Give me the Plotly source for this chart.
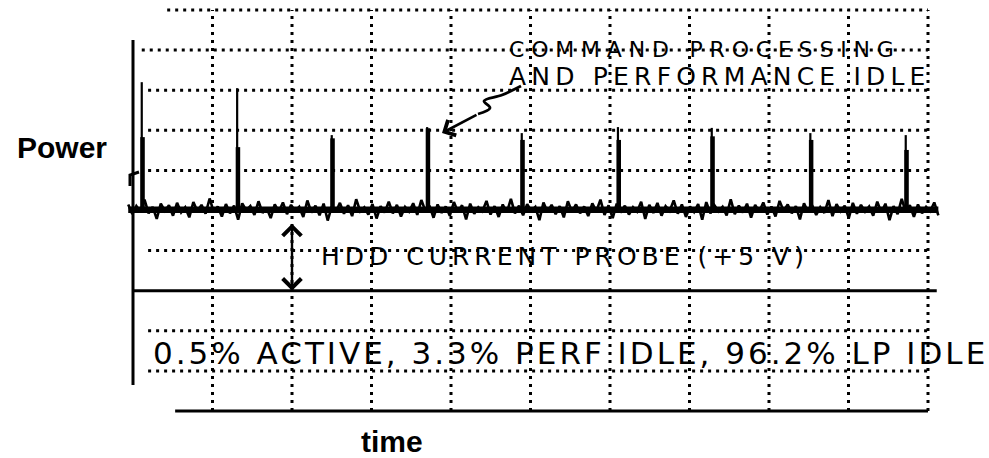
import numpy as np
import plotly.graph_objects as go

# ---------------- data (units = scope grid divisions) ----------------
SPIKE_TIME = [0.11, 1.31, 2.50, 3.70, 4.89, 6.10, 7.28, 8.52, 9.72]
SPIKE_PEAK = [8.20, 8.05, 6.88, 7.08, 6.93, 7.08, 7.06, 6.93, 6.88]
SPIKE_BODY = [6.83, 6.58, 6.80, 7.05, 6.76, 6.76, 6.85, 6.76, 6.51]
IDLE_LEVEL = 5.05
NOISE_START = -0.06
NOISE_END = 10.13
NOISE = [
    0.10, -0.14, 0.06, -0.08, 0.22, -0.12, 0.04, -0.26, 0.12, -0.06,
    0.08, -0.18, 0.14, -0.10, 0.03, -0.22, 0.16, -0.07, 0.09, -0.13,
    0.25, -0.09, 0.05, -0.20, 0.11, -0.12, 0.07, -0.28, 0.13, -0.05,
    0.06, -0.16, 0.18, -0.11, 0.02, -0.24, 0.10, -0.08, 0.15, -0.14,
    0.09, -0.06, 0.04, -0.21, 0.20, -0.10, 0.07, -0.17, 0.12, -0.30,
    0.05, -0.09, 0.14, -0.13, 0.08, -0.19, 0.23, -0.07, 0.03, -0.15,
    0.11, -0.25, 0.06, -0.10, 0.17, -0.12, 0.09, -0.20, 0.04, -0.08,
    0.13, -0.16, 0.21, -0.06, 0.07, -0.23, 0.10, -0.11, 0.05, -0.18,
    0.16, -0.09, 0.08, -0.27, 0.12, -0.13, 0.03, -0.07, 0.19, -0.15,
    0.06, -0.21, 0.10, -0.10, 0.24, -0.12, 0.07, -0.17, 0.11, -0.06,
    0.04, -0.29, 0.15, -0.09, 0.09, -0.14, 0.06, -0.22, 0.18, -0.08,
    0.10, -0.12, 0.05, -0.19, 0.13, -0.07, 0.22, -0.16, 0.08, -0.24,
    0.12, -0.10, 0.07, -0.15, 0.03, -0.08, 0.17, -0.26, 0.09, -0.11,
    0.14, -0.18, 0.06, -0.06, 0.20, -0.13, 0.10, -0.21, 0.05, -0.09,
    0.11, -0.28, 0.16, -0.12, 0.08, -0.07, 0.04, -0.17, 0.23, -0.14,
    0.07, -0.10, 0.12, -0.23, 0.09, -0.08, 0.15, -0.15, 0.05, -0.20,
    0.19, -0.06, 0.10, -0.12, 0.06, -0.27, 0.13, -0.09, 0.08, -0.16,
    0.03, -0.11, 0.21, -0.19, 0.11, -0.07, 0.07, -0.24, 0.14, -0.13,
    0.09, -0.08, 0.05, -0.18, 0.17, -0.10, 0.12, -0.29, 0.06, -0.14,
    0.24, -0.09, 0.08, -0.21, 0.10, -0.12, 0.04, -0.07, 0.15, -0.17,
]
ZERO_LEVEL = 3.0          # HDD current probe zero reference
PROBE_ARROW_X = 2.0
PROBE_ARROW_TOP = 4.71

# grid: (level, start, end)
H_DOTTED = [(10, 0.43, 10), (9, 0.11, 10), (8, 0.19, 10), (7, 0.19, 10), (6, 0.19, 10),
            (5, 0.19, 10), (4, 0.19, 10), (2, 0.19, 10), (1, 0.19, 10)]
H_SOLID = [(3, 0.0, 10.11), (0, 0.53, 10.0)]
V_DOTTED = [1, 2, 3, 4, 5, 6, 7, 8, 9, 10]
AXIS_SPAN = (0.65, 9.25)

LABEL_Y = "Power"
LABEL_X = "time"
NOTE_CMD_1 = "COMMAND PROCESSING"
NOTE_CMD_2 = "AND PERFORMANCE IDLE"
NOTE_PROBE = "HDD CURRENT PROBE (+5 V)"
NOTE_SHARE = "0.5% ACTIVE, 3.3% PERF IDLE, 96.2% LP IDLE"

# ---------------- geometry helpers (page pixels -> divisions) ----------------
W, H = 989, 458
X0, DX = 133.0, 79.5
Y0, DY = 411.0, 40.1


def X(px):
    return (px - X0) / DX


def Y(py):
    return (Y0 - py) / DY


INK = "#000000"
DOT = "3px,5px"

fig = go.Figure()

shapes = []
for lvl, a, b in H_DOTTED:
    shapes.append(dict(type="line", x0=a, x1=b, y0=lvl, y1=lvl, layer="below",
                       line=dict(color=INK, width=3, dash=DOT)))
for v in V_DOTTED:
    shapes.append(dict(type="line", x0=v, x1=v, y0=0, y1=10, layer="below",
                       line=dict(color=INK, width=3, dash=DOT)))
for lvl, a, b in H_SOLID:
    shapes.append(dict(type="line", x0=a, x1=b, y0=lvl, y1=lvl, layer="below",
                       line=dict(color=INK, width=3)))
shapes.append(dict(type="line", x0=0, x1=0, y0=AXIS_SPAN[0], y1=AXIS_SPAN[1], layer="below",
                   line=dict(color=INK, width=3)))

# dense core of the idle-floor trace
fig.add_trace(go.Scatter(x=[NOISE_START, NOISE_END], y=[IDLE_LEVEL - 0.03, IDLE_LEVEL - 0.03],
                         mode="lines", line=dict(color=INK, width=6.5),
                         hoverinfo="skip", showlegend=False))
# noise trace (low-power idle floor)
nx = np.linspace(NOISE_START, NOISE_END, len(NOISE))
ny = [IDLE_LEVEL + v for v in NOISE]
fig.add_trace(go.Scatter(x=nx, y=ny, mode="lines", line=dict(color=INK, width=2.6),
                         hoverinfo="skip", showlegend=False))

# spikes: thin tips + thick bodies
sx, sy, bx, by = [], [], [], []
for t, p, b in zip(SPIKE_TIME, SPIKE_PEAK, SPIKE_BODY):
    sx += [t, t, None]
    sy += [IDLE_LEVEL, p, None]
    bx += [t + 0.01, t + 0.01, None]
    by += [IDLE_LEVEL, b, None]
fig.add_trace(go.Scatter(x=sx, y=sy, mode="lines", line=dict(color=INK, width=2.2),
                         hoverinfo="skip", showlegend=False, connectgaps=False))
fig.add_trace(go.Scatter(x=bx, y=by, mode="lines", line=dict(color=INK, width=4.5),
                         hoverinfo="skip", showlegend=False, connectgaps=False))

# trigger mark at left
fig.add_trace(go.Scatter(x=[X(130), X(130), X(139)], y=[Y(186), Y(175), Y(172)], mode="lines",
                         line=dict(color=INK, width=3), hoverinfo="skip", showlegend=False))

# squiggle of the callout arrow
fig.add_trace(go.Scatter(x=[X(521), X(502), X(484), X(490), X(478)],
                         y=[Y(86), Y(95), Y(101), Y(108), Y(114)],
                         mode="lines", line=dict(color=INK, width=2.8, shape="spline"),
                         hoverinfo="skip", showlegend=False))


def hand(text, ls):
    return f'<span style="letter-spacing:{ls}px">{text}</span>'


HAND_FONT = "DejaVu Sans"
ann = [
    dict(x=X(442), y=Y(133), ax=X(478), ay=Y(114), axref="x", ayref="y", text="",
         showarrow=True, arrowhead=4, arrowsize=1.3, arrowwidth=2.6, arrowcolor=INK),
    dict(x=PROBE_ARROW_X, y=ZERO_LEVEL, ax=PROBE_ARROW_X, ay=PROBE_ARROW_TOP, axref="x", ayref="y",
         text="", showarrow=True, arrowhead=4, startarrowhead=4, arrowside="end+start",
         arrowsize=1.5, startarrowsize=1.5, arrowwidth=2.4, arrowcolor=INK),
    dict(x=X(507), y=Y(49), text=hand(NOTE_CMD_1, 6.8), showarrow=False, xanchor="left",
         yanchor="middle", font=dict(family=HAND_FONT, size=22, color=INK)),
    dict(x=X(507), y=Y(76), text=hand(NOTE_CMD_2, 5.2), showarrow=False, xanchor="left",
         yanchor="middle", font=dict(family=HAND_FONT, size=25, color=INK)),
    dict(x=X(319), y=Y(256), text=hand(NOTE_PROBE, 5), showarrow=False, xanchor="left",
         yanchor="middle", font=dict(family=HAND_FONT, size=25, color=INK)),
    dict(x=X(151), y=Y(353), text=hand(NOTE_SHARE, 3.0), showarrow=False, xanchor="left",
         yanchor="middle", font=dict(family=HAND_FONT, size=31, color=INK)),
    dict(x=X(62), y=Y(147), text=f"<b>{LABEL_Y}</b>", showarrow=False, xanchor="center",
         yanchor="middle", font=dict(family="Liberation Sans", size=30, color=INK)),
    dict(x=X(392), y=Y(441), text=f"<b>{LABEL_X}</b>", showarrow=False, xanchor="center",
         yanchor="middle", font=dict(family="Liberation Sans", size=30, color=INK)),
]

fig.update_layout(
    width=W, height=H,
    margin=dict(l=0, r=0, t=0, b=0),
    paper_bgcolor="white", plot_bgcolor="white",
    xaxis=dict(range=[X(0), X(W)], visible=False, fixedrange=True),
    yaxis=dict(range=[Y(H), Y(0)], visible=False, fixedrange=True),
    shapes=shapes,
    annotations=ann,
    showlegend=False,
)

fig.write_html("out.html", config={"displayModeBar": False},
               post_script="document.body.style.margin='0';")
